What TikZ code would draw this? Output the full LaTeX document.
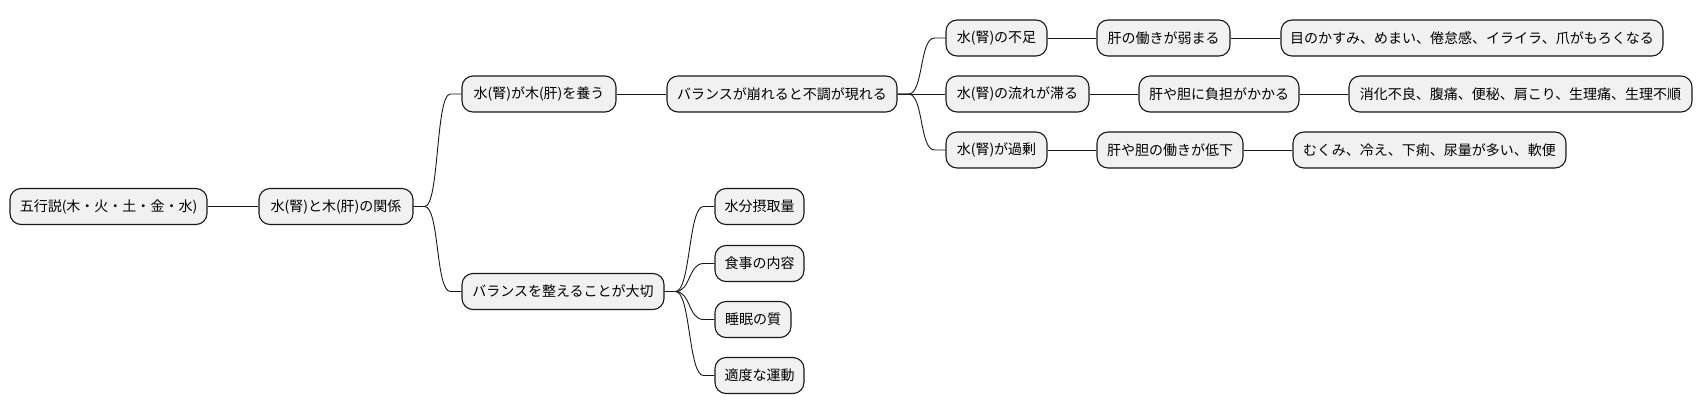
\documentclass[tikz,border=0pt]{standalone}
\usepackage{fontspec}
\setmainfont{Noto Sans CJK JP}
\definecolor{boxfill}{HTML}{F1F1F1}
\definecolor{ink}{HTML}{181818}
\tikzset{
  mbox/.style={draw=ink, fill=boxfill, line width=1.1pt, rounded corners=11pt,
    minimum height=36pt, inner xsep=0pt, inner ysep=0pt, align=center,
    font=\fontsize{14}{17}\selectfont, text=black},
  link/.style={draw=ink, line width=0.9pt},
  branch/.style={to path={-- ++(11,0) .. controls +(15,0) and +(-15,0) .. ([xshift=-11pt]\tikztotarget) -- (\tikztotarget)}}
}
\begin{document}
\begin{tikzpicture}[x=1pt,y=-1pt]
\useasboundingbox (0,0) rectangle (1702,415);
\node[mbox, minimum width=197pt] (root) at (108.5,206.5) {五行説(木・火・土・金・水)};
\node[mbox, minimum width=154pt] (n2) at (336,206.5) {水(腎)と木(肝)の関係};
\node[mbox, minimum width=154pt] (n3) at (539,94) {水(腎)が木(肝)を養う};
\node[mbox, minimum width=230pt] (n4) at (782,94) {バランスが崩れると不調が現れる};
\node[mbox, minimum width=101pt] (a1) at (996.5,38) {水(腎)の不足};
\node[mbox, minimum width=133pt] (a2) at (1163.5,38) {肝の働きが弱まる};
\node[mbox, minimum width=382pt] (a3) at (1472,38) {目のかすみ、めまい、倦怠感、イライラ、爪がもろくなる};
\node[mbox, minimum width=143pt] (b1) at (1017.5,94) {水(腎)の流れが滞る};
\node[mbox, minimum width=160pt] (b2) at (1219,94) {肝や胆に負担がかかる};
\node[mbox, minimum width=343pt] (b3) at (1520.5,94) {消化不良、腹痛、便秘、肩こり、生理痛、生理不順};
\node[mbox, minimum width=101pt] (c1) at (996.5,150) {水(腎)が過剰};
\node[mbox, minimum width=146pt] (c2) at (1170,150) {肝や胆の働きが低下};
\node[mbox, minimum width=273pt] (c3) at (1429.5,150) {むくみ、冷え、下痢、尿量が多い、軟便};
\node[mbox, minimum width=202pt] (n5) at (563,291.5) {バランスを整えることが大切};
\node[mbox, minimum width=89pt] (d1) at (759.5,206.5) {水分摂取量};
\node[mbox, minimum width=89pt] (d2) at (759.5,263.5) {食事の内容};
\node[mbox, minimum width=76pt] (d3) at (753,319.5) {睡眠の質};
\node[mbox, minimum width=89pt] (d4) at (759.5,375.5) {適度な運動};
\draw[link] (root.east) -- (n2.west);
\draw[link] (n2.east) to[branch] (n3.west);
\draw[link] (n2.east) to[branch] (n5.west);
\draw[link] (n3.east) -- (n4.west);
\draw[link] (n4.east) to[branch] (a1.west);
\draw[link] (n4.east) -- (b1.west);
\draw[link] (n4.east) to[branch] (c1.west);
\draw[link] (a1.east) -- (a2.west);
\draw[link] (a2.east) -- (a3.west);
\draw[link] (b1.east) -- (b2.west);
\draw[link] (b2.east) -- (b3.west);
\draw[link] (c1.east) -- (c2.west);
\draw[link] (c2.east) -- (c3.west);
\draw[link] (n5.east) to[branch] (d1.west);
\draw[link] (n5.east) to[branch] (d2.west);
\draw[link] (n5.east) to[branch] (d3.west);
\draw[link] (n5.east) to[branch] (d4.west);
\end{tikzpicture}
\end{document}
